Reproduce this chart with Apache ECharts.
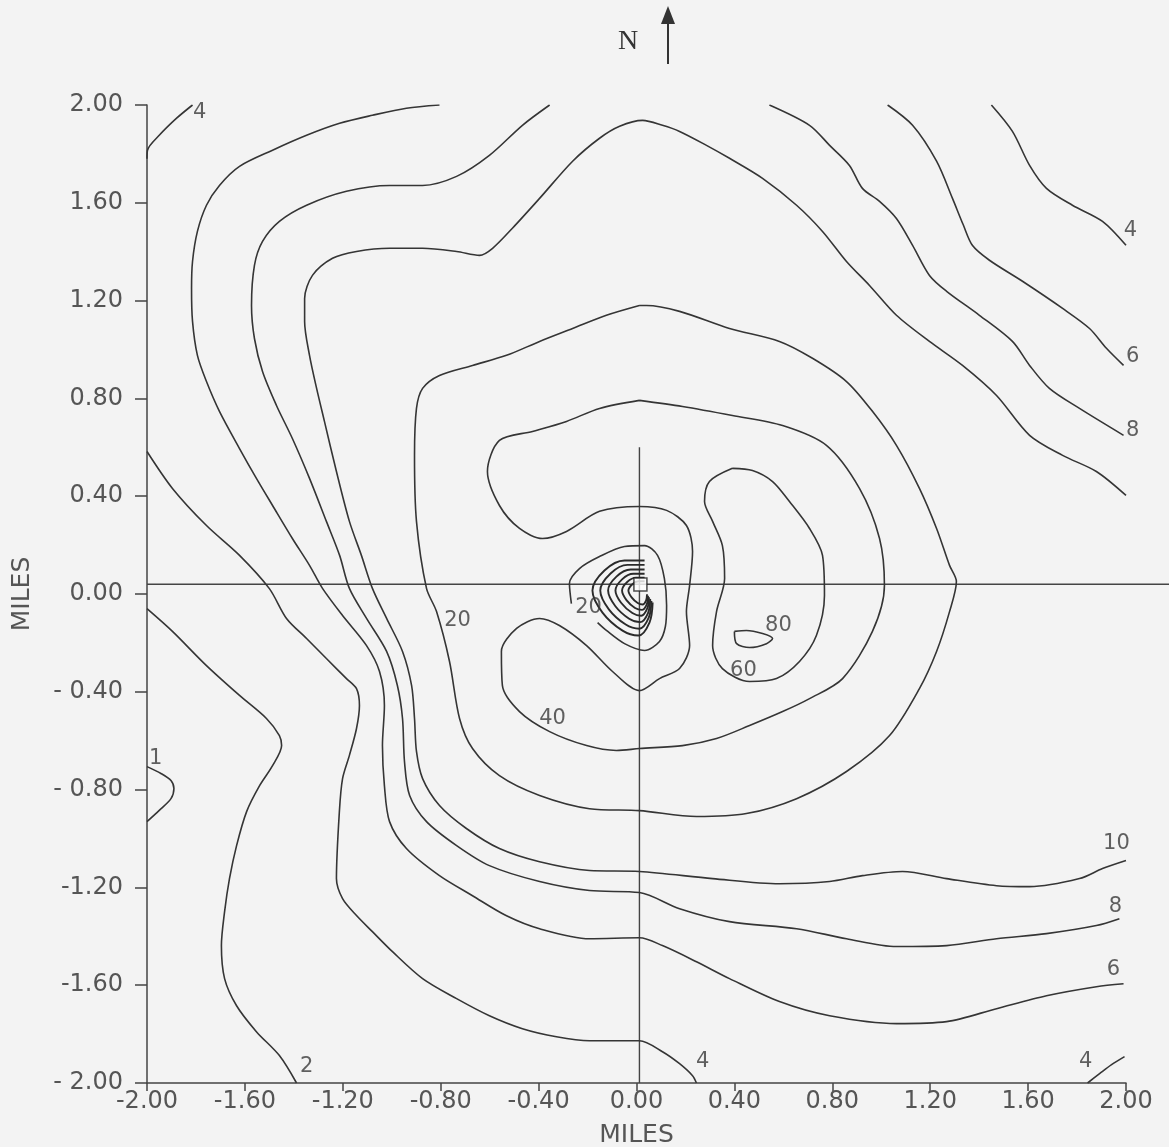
<!DOCTYPE html>
<html>
<head>
<meta charset="utf-8">
<script src="https://cdn.jsdelivr.net/npm/echarts@6/dist/echarts.min.js"></script>
<style>
  html, body { margin: 0; padding: 0; background: #f3f3f3; }
  #chart { width: 1169px; height: 1147px; }
</style>
</head>
<body>
<div id="chart"></div>
<script>
// Contour lines, coordinates in miles: [east, north]
const c4a = [[-2.0,1.78],[-1.998,1.815],[-1.949,1.877],[-1.879,1.946],[-1.814,2.0]];
const c1 = [[-2.0,-0.706],[-1.943,-0.734],[-1.902,-0.763],[-1.890,-0.796],[-1.902,-0.837],[-1.951,-0.886],[-2.0,-0.931]];
const c2 = [[-2.0,-0.06],[-1.896,-0.153],[-1.757,-0.293],[-1.622,-0.415],[-1.512,-0.509],[-1.459,-0.579],[-1.450,-0.620],[-1.487,-0.702],[-1.540,-0.784],[-1.593,-0.890],[-1.634,-1.029],[-1.663,-1.164],[-1.683,-1.299],[-1.696,-1.438],[-1.683,-1.573],[-1.634,-1.684],[-1.553,-1.790],[-1.459,-1.888],[-1.389,-2.0]];
const c4b = [[-2.0,0.583],[-1.896,0.432],[-1.757,0.280],[-1.622,0.158],[-1.500,0.022],[-1.430,-0.100],[-1.348,-0.182],[-1.267,-0.264],[-1.185,-0.346],[-1.144,-0.387],[-1.132,-0.456],[-1.144,-0.550],[-1.173,-0.660],[-1.201,-0.755],[-1.214,-0.890],[-1.226,-1.164],[-1.201,-1.246],[-1.144,-1.315],[-1.079,-1.381],[-0.997,-1.463],[-0.874,-1.573],[-0.735,-1.655],[-0.601,-1.725],[-0.466,-1.778],[-0.327,-1.811],[-0.192,-1.827],[0.012,-1.827],[0.106,-1.872],[0.176,-1.921],[0.229,-1.970],[0.245,-2.0]];
const c4c = [[1.450,2.0],[1.536,1.892],[1.606,1.753],[1.675,1.659],[1.781,1.590],[1.904,1.524],[2.0,1.426]];
const c4d = [[1.843,-2.0],[1.892,-1.962],[1.941,-1.925],[1.994,-1.892]];
const c6a = [[-0.805,2.0],[-0.940,1.987],[-1.079,1.958],[-1.213,1.925],[-1.348,1.876],[-1.487,1.815],[-1.622,1.749],[-1.704,1.671],[-1.757,1.590],[-1.794,1.483],[-1.814,1.360],[-1.818,1.250],[-1.814,1.115],[-1.794,0.976],[-1.757,0.869],[-1.704,0.747],[-1.622,0.595],[-1.553,0.473],[-1.487,0.362],[-1.406,0.227],[-1.336,0.117],[-1.283,0.023],[-1.201,-0.088],[-1.103,-0.211],[-1.050,-0.317],[-1.030,-0.456],[-1.038,-0.620],[-1.030,-0.784],[-1.009,-0.931],[-0.940,-1.041],[-0.805,-1.152],[-0.670,-1.234],[-0.531,-1.316],[-0.396,-1.369],[-0.192,-1.410],[0.012,-1.406],[0.106,-1.438],[0.245,-1.504],[0.380,-1.573],[0.584,-1.667],[0.789,-1.725],[1.062,-1.757],[1.267,-1.749],[1.471,-1.696],[1.675,-1.643],[1.879,-1.606],[1.99,-1.594]];
const c6b = [[1.026,2.0],[1.128,1.917],[1.226,1.770],[1.291,1.618],[1.335,1.510],[1.373,1.425],[1.442,1.365],[1.577,1.279],[1.741,1.168],[1.851,1.086],[1.920,1.005],[1.99,0.935]];
const c8a = [[-0.355,2.0],[-0.466,1.917],[-0.601,1.794],[-0.735,1.708],[-0.874,1.671],[-1.009,1.671],[-1.185,1.647],[-1.348,1.590],[-1.459,1.524],[-1.528,1.442],[-1.561,1.344],[-1.573,1.180],[-1.561,1.045],[-1.528,0.910],[-1.471,0.771],[-1.406,0.636],[-1.336,0.473],[-1.267,0.297],[-1.213,0.158],[-1.173,0.023],[-1.103,-0.100],[-1.021,-0.235],[-0.977,-0.374],[-0.956,-0.509],[-0.948,-0.685],[-0.927,-0.824],[-0.858,-0.931],[-0.735,-1.029],[-0.601,-1.111],[-0.396,-1.176],[-0.192,-1.213],[0.012,-1.221],[0.176,-1.287],[0.380,-1.340],[0.654,-1.369],[0.858,-1.410],[1.062,-1.442],[1.267,-1.438],[1.471,-1.410],[1.675,-1.389],[1.879,-1.356],[1.973,-1.328]];
const c8b = [[0.543,2.0],[0.707,1.917],[0.789,1.835],[0.870,1.753],[0.923,1.659],[0.993,1.606],[1.062,1.536],[1.128,1.426],[1.197,1.303],[1.267,1.238],[1.401,1.140],[1.536,1.033],[1.606,0.935],[1.687,0.841],[1.810,0.759],[1.99,0.649]];
const c10 = [[2.0,0.403],[1.879,0.501],[1.741,0.567],[1.606,0.649],[1.471,0.812],[1.332,0.935],[1.197,1.033],[1.062,1.140],[0.952,1.262],[0.858,1.360],[0.760,1.483],[0.654,1.590],[0.515,1.700],[0.380,1.782],[0.286,1.835],[0.176,1.892],[0.106,1.917],[0.025,1.937],[-0.069,1.913],[-0.151,1.864],[-0.261,1.770],[-0.396,1.618],[-0.507,1.496],[-0.588,1.414],[-0.641,1.385],[-0.735,1.401],[-0.874,1.414],[-1.009,1.414],[-1.144,1.401],[-1.242,1.373],[-1.324,1.303],[-1.356,1.209],[-1.356,1.115],[-1.336,0.976],[-1.307,0.841],[-1.275,0.706],[-1.226,0.501],[-1.173,0.297],[-1.124,0.158],[-1.079,0.023],[-1.021,-0.100],[-0.956,-0.235],[-0.919,-0.374],[-0.907,-0.509],[-0.899,-0.644],[-0.874,-0.755],[-0.805,-0.865],[-0.695,-0.959],[-0.560,-1.041],[-0.396,-1.095],[-0.192,-1.131],[0.012,-1.135],[0.311,-1.164],[0.584,-1.185],[0.789,-1.176],[0.923,-1.152],[1.087,-1.135],[1.267,-1.164],[1.471,-1.193],[1.606,-1.197],[1.810,-1.164],[1.904,-1.123],[2.0,-1.090]];
const c20 = [[0.012,1.180],[-0.123,1.140],[-0.261,1.086],[-0.396,1.033],[-0.531,0.976],[-0.670,0.935],[-0.805,0.894],[-0.874,0.841],[-0.899,0.759],[-0.907,0.567],[-0.899,0.297],[-0.858,0.023],[-0.817,-0.072],[-0.764,-0.276],[-0.723,-0.509],[-0.670,-0.632],[-0.560,-0.743],[-0.396,-0.824],[-0.192,-0.878],[0.012,-0.886],[0.245,-0.910],[0.449,-0.898],[0.654,-0.837],[0.858,-0.726],[1.034,-0.579],[1.156,-0.387],[1.226,-0.235],[1.279,-0.072],[1.307,0.051],[1.279,0.117],[1.226,0.268],[1.156,0.432],[1.062,0.608],[0.964,0.747],[0.858,0.869],[0.719,0.964],[0.584,1.033],[0.380,1.086],[0.176,1.156],[0.041,1.180],[0.012,1.180]];
const c40 = [[0.012,0.792],[-0.151,0.759],[-0.286,0.706],[-0.425,0.665],[-0.560,0.628],[-0.609,0.501],[-0.560,0.362],[-0.478,0.268],[-0.384,0.227],[-0.286,0.256],[-0.151,0.338],[0.012,0.358],[0.123,0.342],[0.204,0.280],[0.229,0.174],[0.217,0.035],[0.204,-0.072],[0.217,-0.211],[0.176,-0.305],[0.094,-0.346],[0.012,-0.395],[-0.098,-0.317],[-0.204,-0.211],[-0.315,-0.129],[-0.396,-0.100],[-0.490,-0.141],[-0.552,-0.235],[-0.548,-0.374],[-0.478,-0.481],[-0.355,-0.563],[-0.204,-0.620],[-0.082,-0.640],[0.012,-0.632],[0.188,-0.620],[0.327,-0.591],[0.462,-0.538],[0.597,-0.481],[0.707,-0.428],[0.842,-0.346],[0.964,-0.153],[1.013,0.035],[0.993,0.227],[0.911,0.432],[0.776,0.608],[0.597,0.689],[0.392,0.730],[0.188,0.767],[0.012,0.792]];
const c60 = [[0.392,0.514],[0.298,0.460],[0.278,0.378],[0.311,0.297],[0.351,0.198],[0.360,0.063],[0.327,-0.072],[0.311,-0.211],[0.351,-0.305],[0.462,-0.358],[0.572,-0.346],[0.666,-0.276],[0.735,-0.170],[0.768,-0.006],[0.760,0.158],[0.707,0.268],[0.625,0.378],[0.556,0.460],[0.474,0.505],[0.392,0.514]];
const c80 = [[0.400,-0.153],[0.409,-0.203],[0.462,-0.219],[0.531,-0.203],[0.556,-0.182],[0.515,-0.162],[0.449,-0.149],[0.400,-0.153]];
const c20inner = [[-0.266,-0.039],[-0.274,0.043],[-0.233,0.104],[-0.151,0.153],[-0.049,0.194],[0.033,0.198],[0.086,0.158],[0.114,0.063],[0.123,-0.047],[0.118,-0.133],[0.094,-0.194],[0.033,-0.231],[-0.049,-0.203],[-0.123,-0.149],[-0.159,-0.117]];
// Tight rings wrapped round the release point
const ring1 = [[0.033,0.137],[-0.049,0.137],[-0.131,0.096],[-0.180,0.014],[-0.139,-0.076],[-0.057,-0.150],[0.008,-0.170],[0.053,-0.117],[0.066,-0.035]];
const ring2 = [[0.033,0.119],[-0.037,0.119],[-0.106,0.084],[-0.148,0.014],[-0.113,-0.063],[-0.044,-0.125],[0.012,-0.142],[0.050,-0.097],[0.061,-0.028]];
const ring3 = [[0.033,0.100],[-0.024,0.100],[-0.082,0.071],[-0.116,0.014],[-0.087,-0.049],[-0.030,-0.101],[0.015,-0.115],[0.047,-0.078],[0.056,-0.020]];
const ring4 = [[0.033,0.083],[-0.013,0.083],[-0.059,0.060],[-0.086,0.014],[-0.063,-0.036],[-0.017,-0.078],[0.019,-0.089],[0.044,-0.059],[0.051,-0.013]];
const ring5 = [[0.033,0.067],[-0.002,0.067],[-0.038,0.049],[-0.059,0.014],[-0.041,-0.025],[-0.006,-0.057],[0.022,-0.065],[0.042,-0.042],[0.047,-0.007]];
const ring6 = [[0.033,0.052],[0.008,0.052],[-0.018,0.039],[-0.033,0.014],[-0.020,-0.014],[0.005,-0.037],[0.025,-0.043],[0.039,-0.027],[0.043,-0.001]];

// Contour value labels: [east, north, text]
const contourLabels = [
  [-1.785, 1.970, '4'], [-1.965, -0.673, '1'], [-1.348, -1.933, '2'],
  [0.270, -1.913, '4'], [1.835, -1.913, '4'], [1.949, -1.536, '6'],
  [1.957, -1.279, '8'], [1.961, -1.021, '10'], [2.027, 0.972, '6'],
  [2.027, 0.669, '8'], [2.018, 1.487, '4'], [-0.731, -0.108, '20'],
  [-0.196, -0.055, '20'], [-0.343, -0.509, '40'], [0.437, -0.313, '60'],
  [0.580, -0.129, '80']
];

// Reference cross through the source, and the source marker
const crossNorth = 0.04;       // east-west line
const crossEast = 0.012;       // north-south line
const crossNSTop = 0.6;
const source = [[0.016, 0.039]];

// Axis ticks
const xTickLabels = ['-2.00','-1.60','-1.20','-0.80','-0.40','0.00','0.40','0.80','1.20','1.60','2.00'];
const yTickLabels = ['- 2.00','-1.60','-1.20','- 0.80','- 0.40','0.00','0.40','0.80','1.20','1.60','2.00'];

const INK = '#353535';
const mainContours = [c4a, c1, c2, c4b, c4c, c4d, c6a, c6b, c8a, c8b, c10, c20, c40, c60, c80, c20inner];
const rings = [ring1, ring2, ring3, ring4, ring5, ring6];

const series = mainContours.map(pts => ({
  type: 'line', data: pts, symbol: 'none', smooth: 0.3, silent: true,
  lineStyle: { color: INK, width: 1.6 }, z: 3
})).concat(rings.map(pts => ({
  type: 'line', data: pts, symbol: 'none', smooth: 0.35, silent: true,
  lineStyle: { color: '#2a2a2a', width: 1.9 }, z: 3
})));

series.push({
  type: 'line', data: [[crossEast, crossNSTop], [crossEast, -2.0]], symbol: 'none', silent: true,
  lineStyle: { color: '#444', width: 1.4 }, z: 2
});
series.push({
  type: 'scatter', data: source, symbol: 'rect', symbolSize: 13, silent: true,
  itemStyle: { color: '#ffffff', borderColor: '#222', borderWidth: 1.5 }, z: 6
});
series.push({
  type: 'scatter', clip: false, silent: true, symbolSize: 0, z: 7,
  data: contourLabels.map(d => ({ value: [d[0], d[1]], name: d[2] })),
  label: {
    show: true, position: 'inside', formatter: p => p.name,
    fontFamily: 'DejaVu Sans', fontSize: 21, color: '#3a3a3a'
  }
});

const axisLineStyle = { color: '#444', width: 1.5 };
const tickFont = { fontFamily: 'DejaVu Sans', fontSize: 24, color: '#555' };

const option = {
  backgroundColor: '#f3f3f3',
  animation: false,
  grid: { left: 147, right: 43, top: 105, bottom: 64, containLabel: false, outerBoundsMode: 'none' },
  xAxis: {
    type: 'value', min: -2, max: 2, interval: 0.4,
    axisLine: { show: true, onZero: false, lineStyle: axisLineStyle },
    axisTick: { show: true, length: 8, lineStyle: axisLineStyle },
    axisLabel: Object.assign({ margin: 7, formatter: (v, i) => xTickLabels[i] }, tickFont),
    splitLine: { show: false },
    name: 'MILES', nameLocation: 'middle', nameGap: 40,
    nameTextStyle: { fontFamily: 'DejaVu Sans', fontSize: 25, color: '#555' }
  },
  yAxis: {
    type: 'value', min: -2, max: 2, interval: 0.4,
    axisLine: { show: true, onZero: false, lineStyle: axisLineStyle },
    axisTick: { show: true, length: 12, lineStyle: axisLineStyle },
    axisLabel: Object.assign({ margin: 24, formatter: (v, i) => yTickLabels[i] }, tickFont),
    splitLine: { show: false },
    name: 'MILES', nameLocation: 'middle', nameRotate: 90, nameGap: 112,
    nameTextStyle: { fontFamily: 'DejaVu Sans', fontSize: 25, color: '#555' }
  },
  series: series
};

const chart = echarts.init(document.getElementById('chart'), null, { renderer: 'canvas' });
chart.setOption(option);

// The east-west line runs from the left axis out to the page edge;
// place it through the chart's own scale.
const westEnd = chart.convertToPixel({ gridIndex: 0 }, [-2, crossNorth]);
chart.setOption({
  graphic: [
    { type: 'line', z: 2, silent: true,
      shape: { x1: westEnd[0], y1: westEnd[1], x2: chart.getWidth(), y2: westEnd[1] },
      style: { stroke: '#444', lineWidth: 1.4 } },
    { type: 'text', left: 618, top: 28,
      style: { text: 'N', font: '28px "Liberation Serif"', fill: '#333' } },
    { type: 'line', shape: { x1: 668, y1: 64, x2: 668, y2: 20 },
      style: { stroke: '#333', lineWidth: 2 } },
    { type: 'polygon', shape: { points: [[668, 6], [661, 24], [675, 24]] },
      style: { fill: '#333' } }
  ]
});
</script>
</body>
</html>
